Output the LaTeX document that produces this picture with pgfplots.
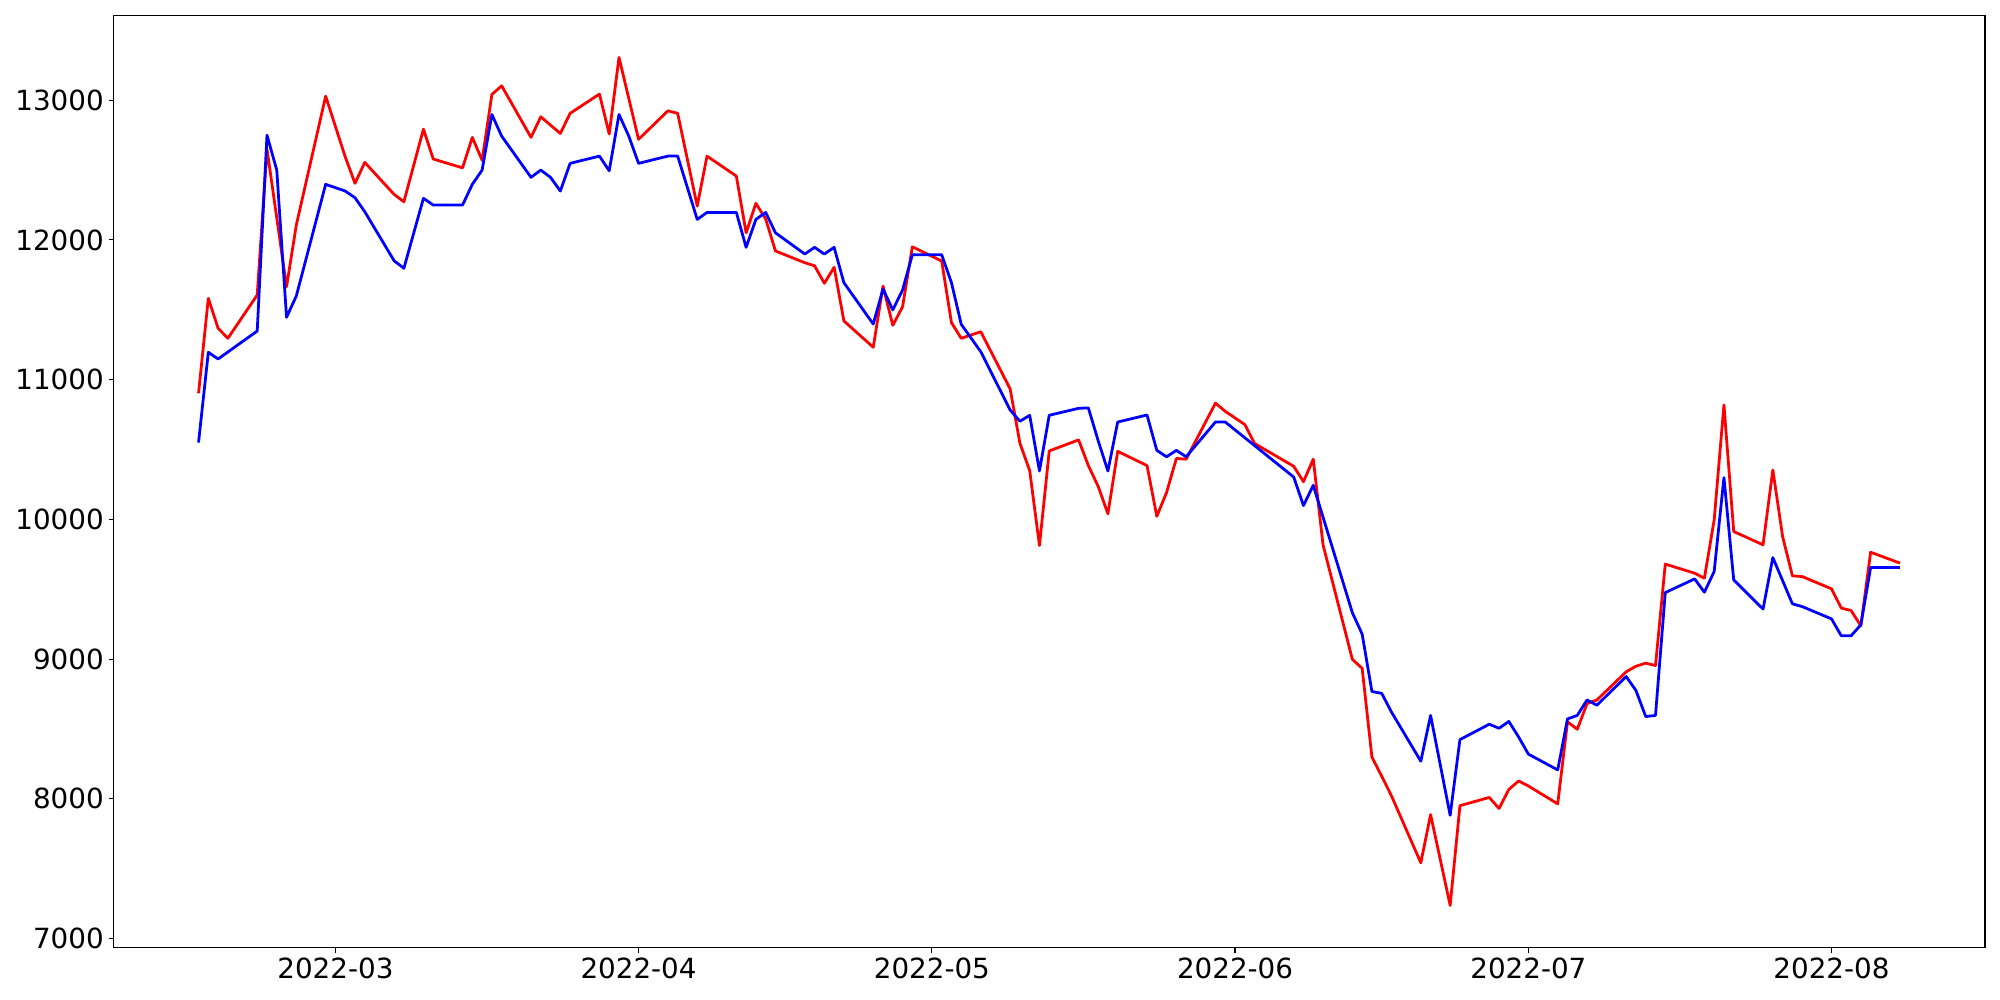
\documentclass[border=0pt]{standalone}
\usepackage{fontspec}
\setmainfont{DejaVu Sans}
\usepackage{pgfplots}
\pgfplotsset{compat=1.18}
\begin{document}
\begin{tikzpicture}
\begin{axis}[
  at={(0,0)}, anchor=south west,
  scale only axis, width=1347.5pt, height=671.3pt,
  xmin=36.3, xmax=227.7, ymin=6935, ymax=13608,
  xtick={59,90,120,151,181,212},
  xticklabels={2022-03,2022-04,2022-05,2022-06,2022-07,2022-08},
  ytick={7000,8000,9000,10000,11000,12000,13000},
  scaled y ticks=false,
  yticklabel style={/pgf/number format/fixed, /pgf/number format/precision=0},
  /pgf/number format/1000 sep={},
  /pgf/number format/assume math mode=true,
  tick label style={font=\fontsize{20}{24}\selectfont},
  tick align=outside, xtick pos=bottom, ytick pos=left,
  major tick length=3.5pt,
  axis line style={line width=0.8pt},
  every tick/.style={black, line width=0.8pt},
]
\addplot[red, line width=2pt, line join=round] coordinates {
(45,10903)(46,11582)(47,11368)(48,11296)(51,11606)(52,12650)(54,11665)(55,12107)
(58,13029)(60,12595)(61,12405)(62,12555)(65,12326)(66,12273)(68,12793)(69,12579)
(72,12516)(73,12734)(74,12570)(75,13041)(76,13103)(79,12734)(80,12881)(82,12762)
(83,12906)(86,13044)(87,12758)(88,13306)(90,12720)(93,12924)(94,12906)(96,12242)
(97,12600)(100,12457)(101,12051)(102,12262)(103,12150)(104,11921)(107,11837)(108,11815)
(109,11690)(110,11804)(111,11420)(114,11232)(115,11670)(116,11389)(117,11522)(118,11951)
(121,11849)(122,11408)(123,11296)(125,11343)(128,10934)(129,10545)(130,10349)(131,9813)
(132,10490)(135,10569)(136,10385)(137,10237)(138,10040)(139,10487)(142,10385)(143,10022)
(144,10193)(145,10436)(146,10431)(149,10832)(150,10773)(152,10679)(153,10543)(157,10380)
(158,10270)(159,10431)(160,9818)(163,8998)(164,8934)(165,8298)(166,8162)(167,8021)
(170,7542)(171,7887)(173,7237)(174,7951)(177,8010)(178,7931)(179,8067)(180,8128)
(181,8092)(184,7964)(185,8551)(186,8498)(187,8682)(188,8707)(191,8909)(192,8949)
(193,8971)(194,8954)(195,9680)(198,9615)(199,9579)(200,9996)(201,10819)(202,9913)
(205,9818)(206,10354)(207,9877)(208,9596)(209,9591)(212,9503)(213,9365)(214,9348)
(215,9238)(216,9765)(219,9687)
};
\addplot[blue, line width=2pt, line join=round] coordinates {
(45,10550)(46,11196)(47,11148)(51,11348)(52,12750)(53,12500)(54,11446)(55,11599)
(58,12398)(60,12350)(61,12302)(62,12202)(65,11851)(66,11797)(68,12298)(69,12250)
(72,12250)(73,12398)(74,12500)(75,12898)(76,12743)(79,12448)(80,12500)(81,12448)
(82,12350)(83,12548)(86,12600)(87,12495)(88,12898)(89,12743)(90,12548)(93,12600)
(94,12600)(96,12147)(97,12197)(100,12197)(101,11947)(102,12147)(103,12197)(104,12051)
(107,11899)(108,11947)(109,11899)(110,11947)(111,11694)(114,11398)(115,11649)(116,11499)
(117,11642)(118,11894)(121,11894)(122,11694)(123,11396)(125,11200)(128,10783)(129,10702)
(130,10745)(131,10347)(132,10745)(135,10795)(136,10798)(137,10564)(138,10346)(139,10697)
(142,10747)(143,10494)(144,10448)(145,10494)(146,10448)(149,10697)(150,10697)(157,10303)
(158,10099)(159,10244)(163,9332)(164,9179)(165,8768)(166,8755)(167,8621)(170,8269)
(171,8597)(173,7882)(174,8424)(177,8534)(178,8505)(179,8554)(180,8443)(181,8320)
(184,8207)(185,8572)(186,8597)(187,8708)(188,8670)(191,8875)(192,8776)(193,8589)
(194,8597)(195,9476)(198,9574)(199,9479)(200,9627)(201,10299)(202,9567)(205,9358)
(206,9727)(208,9396)(209,9376)(212,9288)(213,9167)(214,9167)(215,9245)(216,9655)
(219,9655)
};
\end{axis}
\useasboundingbox (-81.7pt,-37.7pt) rectangle (1358.3pt,682.3pt);
\end{tikzpicture}
\end{document}
